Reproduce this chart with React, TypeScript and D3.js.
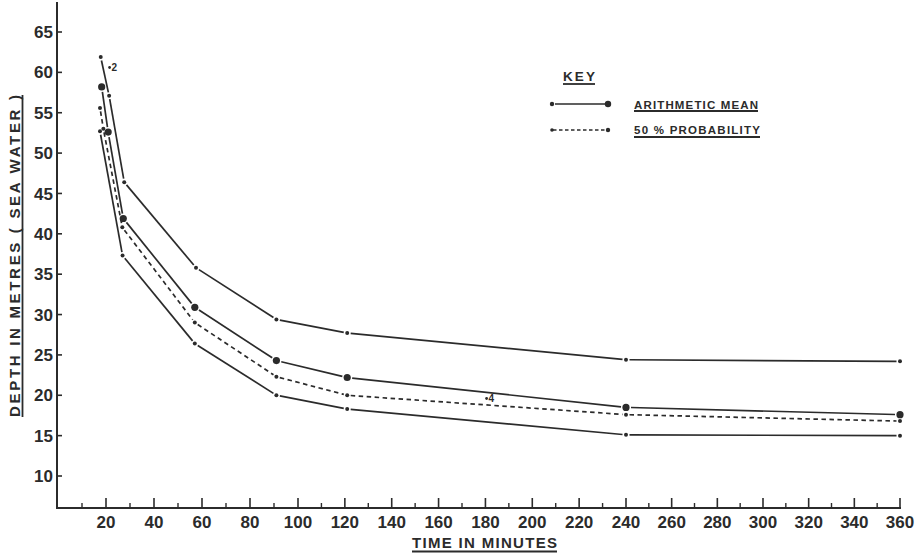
import React from "react";
import * as d3 from "d3";

// ---- data ----
const xTickLabels = [20, 40, 60, 80, 100, 120, 140, 160, 180, 200, 220, 240, 260, 280, 300, 320, 340, 360];
const xMinorTicks = [10, 30, 50, 70, 90, 110, 130, 150, 170, 190, 210, 230, 250, 270, 290, 310, 330, 350];
const yTickLabels = [10, 15, 20, 25, 30, 35, 40, 45, 50, 55, 60, 65];

const upperTimes = [17.8, 21.3, 27.6, 57.5, 91, 121, 240, 360];
const upperDepths = [61.9, 57.1, 46.4, 35.8, 29.4, 27.7, 24.4, 24.2];

const meanTimes = [18.2, 20.9, 27.2, 57, 91, 121, 240, 360];
const meanDepths = [58.2, 52.6, 41.9, 30.9, 24.3, 22.2, 18.5, 17.6];

const probTimes = [17.5, 18.9, 26.8, 57, 91, 121, 240, 360];
const probDepths = [55.6, 53.0, 40.8, 29.0, 22.3, 20.0, 17.6, 16.8];

const lowerTimes = [17.5, 26.9, 57, 91, 121, 240, 360];
const lowerDepths = [52.7, 37.3, 26.4, 20.0, 18.3, 15.1, 15.0];

const annotations = [
  { t: 21.5, d: 60.6, label: "2" },
  { t: 180.5, d: 19.6, label: "4" },
];

const FONT = "'Liberation Sans', Arial, Helvetica, sans-serif";
const INK = "#2b2b2b";

const W = 918;
const H = 554;

const x = d3.scaleLinear().domain([0, 20, 100, 240, 360]).range([58, 106, 298, 626, 900]);
const y = d3.scaleLinear().domain([10, 65]).range([476, 32]);

const X0 = 57;
const Y0 = 508;

type Pt = [number, number];

function gappedSegments(pts: Pt[], gapStart: number, gapEnd: number) {
  const segs: { x1: number; y1: number; x2: number; y2: number }[] = [];
  for (let i = 0; i < pts.length - 1; i++) {
    const [ax, ay] = pts[i];
    const [bx, by] = pts[i + 1];
    const dx = bx - ax;
    const dy = by - ay;
    const len = Math.hypot(dx, dy);
    if (len < gapStart + gapEnd + 1) continue;
    const ux = dx / len;
    const uy = dy / len;
    segs.push({
      x1: ax + ux * gapStart,
      y1: ay + uy * gapStart,
      x2: bx - ux * gapEnd,
      y2: by - uy * gapEnd,
    });
  }
  return segs;
}

function Series({
  times,
  depths,
  dashed,
  big,
}: {
  times: number[];
  depths: number[];
  dashed?: boolean;
  big?: boolean;
}) {
  const pts: Pt[] = times.map((t, i) => [x(t), y(depths[i])]);
  const gap = big ? 5 : 3.5;
  const segs = gappedSegments(pts, gap, gap);
  return (
    <g>
      {segs.map((s, i) => (
        <line
          key={i}
          x1={s.x1}
          y1={s.y1}
          x2={s.x2}
          y2={s.y2}
          stroke={INK}
          strokeWidth={1.7}
          strokeDasharray={dashed ? "4.5,3.5" : undefined}
        />
      ))}
      {pts.map((p, i) => (
        <circle key={i} cx={p[0]} cy={p[1]} r={big ? 3.6 : 2} fill={INK} />
      ))}
    </g>
  );
}

export default function App() {
  const yTop = 2;
  return (
    <svg
      width={W}
      height={H}
      viewBox={`0 0 ${W} ${H}`}
      style={{ position: "fixed", left: 0, top: 0, background: "#ffffff" }}
    >
      <rect x={0} y={0} width={W} height={H} fill="#ffffff" />

      {/* axes */}
      <line x1={X0} y1={yTop} x2={X0} y2={Y0 + 1} stroke={INK} strokeWidth={2} />
      <line x1={X0} y1={Y0} x2={x(360) + 1} y2={Y0} stroke={INK} strokeWidth={2} />

      {/* y ticks */}
      {yTickLabels.map((v) => (
        <g key={v}>
          <line x1={X0} x2={X0 + 5} y1={y(v)} y2={y(v)} stroke={INK} strokeWidth={1.6} />
          <text
            x={53}
            y={y(v)}
            dy="0.36em"
            textAnchor="end"
            fontFamily={FONT}
            fontWeight="bold"
            fontSize={17}
            fill={INK}
          >
            {v}
          </text>
        </g>
      ))}

      {/* x ticks */}
      {xMinorTicks.map((t) => (
        <line key={"m" + t} x1={x(t)} x2={x(t)} y1={Y0} y2={Y0 - 5} stroke={INK} strokeWidth={1.4} />
      ))}
      {xTickLabels.map((t) => (
        <g key={t}>
          <line x1={x(t)} x2={x(t)} y1={Y0} y2={Y0 - 10} stroke={INK} strokeWidth={1.6} />
          <text
            x={x(t)}
            y={528}
            textAnchor="middle"
            fontFamily={FONT}
            fontWeight="bold"
            fontSize={17}
            fill={INK}
          >
            {t}
          </text>
        </g>
      ))}

      {/* axis titles */}
      <text
        x={484.5}
        y={548}
        textAnchor="middle"
        fontFamily={FONT}
        fontWeight="bold"
        fontSize={15}
        fill={INK}
        textLength={145}
        lengthAdjust="spacing"
      >
        TIME  IN  MINUTES
      </text>
      <line x1={412} x2={557} y1={551.5} y2={551.5} stroke={INK} strokeWidth={1.8} />

      <g transform="translate(20,256) rotate(-90)">
        <text
          x={0}
          y={0}
          textAnchor="middle"
          fontFamily={FONT}
          fontWeight="bold"
          fontSize={15}
          fill={INK}
          textLength={322}
          lengthAdjust="spacing"
        >
          DEPTH  IN  METRES  ( SEA  WATER )
        </text>
        <line x1={-161} x2={161} y1={2.5} y2={2.5} stroke={INK} strokeWidth={1.8} />
      </g>

      {/* data */}
      <Series times={upperTimes} depths={upperDepths} />
      <Series times={lowerTimes} depths={lowerDepths} />
      <Series times={probTimes} depths={probDepths} dashed />
      <Series times={meanTimes} depths={meanDepths} big />

      {/* annotations */}
      {annotations.map((a) => (
        <g key={a.label}>
          <circle cx={x(a.t)} cy={y(a.d)} r={1.4} fill={INK} />
          <text
            x={x(a.t) + 2}
            y={y(a.d)}
            dy="0.35em"
            fontFamily={FONT}
            fontWeight="bold"
            fontSize={10}
            fill={INK}
          >
            {a.label}
          </text>
        </g>
      ))}

      {/* key */}
      <text x={563} y={81} fontFamily={FONT} fontWeight="bold" fontSize={13.5} fill={INK} textLength={32} lengthAdjust="spacing">
        KEY
      </text>
      <line x1={563} x2={595} y1={84} y2={84} stroke={INK} strokeWidth={1.8} />

      <line x1={555} x2={605} y1={104} y2={104} stroke={INK} strokeWidth={1.7} />
      <circle cx={552} cy={104} r={2.2} fill={INK} />
      <circle cx={608} cy={104} r={3.2} fill={INK} />
      <text x={634} y={108.5} fontFamily={FONT} fontWeight="bold" fontSize={11.5} fill={INK} textLength={124} lengthAdjust="spacing">
        ARITHMETIC  MEAN
      </text>
      <line x1={634} x2={758} y1={111} y2={111} stroke={INK} strokeWidth={1.8} />

      <line x1={553} x2={606} y1={130} y2={130} stroke={INK} strokeWidth={1.7} strokeDasharray="3.5,2.5" />
      <circle cx={552} cy={130} r={1.8} fill={INK} />
      <circle cx={608} cy={130} r={2.2} fill={INK} />
      <text x={634} y={134} fontFamily={FONT} fontWeight="bold" fontSize={11.5} fill={INK} textLength={126} lengthAdjust="spacing">
        50 %  PROBABILITY
      </text>
      <line x1={634} x2={760} y1={137} y2={137} stroke={INK} strokeWidth={1.8} />
    </svg>
  );
}
